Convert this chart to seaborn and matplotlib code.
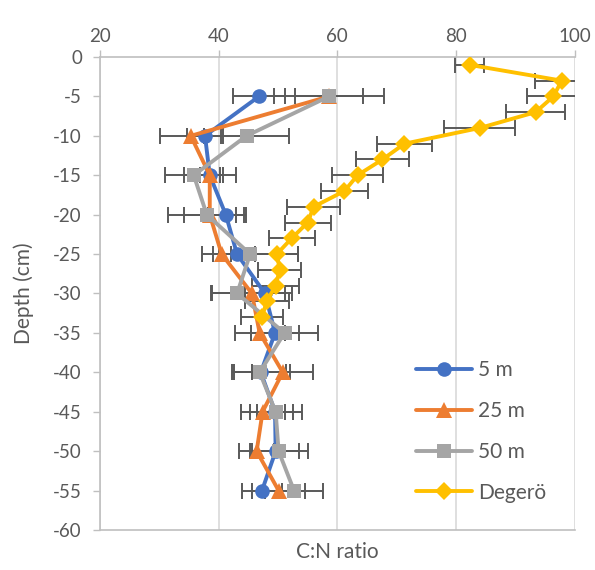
import numpy as np
import pandas as pd
import matplotlib
matplotlib.use("Agg")
import matplotlib.pyplot as plt
import seaborn as sns
from matplotlib.lines import Line2D

# ---------------- data ----------------
depth_sites = [-5, -10, -15, -20, -25, -30, -35, -40, -45, -50, -55]
cn_5m = [46.8, 37.7, 38.5, 41.2, 43.1, 47.8, 49.5, 47.1, 49.5, 49.6, 47.3]
err_5m = [4.4, 3.0, 1.7, 3.0, 3.0, 3.4, 4.0, 4.9, 3.0, 3.9, 3.4]
cn_25m = [58.6, 35.3, 38.5, 38.5, 40.5, 45.6, 46.9, 50.8, 47.4, 46.4, 50.1]
err_25m = [5.7, 5.1, 4.4, 4.4, 1.5, 6.7, 4.2, 5.1, 3.7, 2.9, 4.4]
cn_50m = [58.6, 44.7, 35.8, 38.0, 45.3, 43.1, 51.1, 46.9, 49.6, 50.1, 52.7]
err_50m = [9.3, 7.1, 4.9, 6.6, 8.1, 4.4, 5.7, 4.4, 4.4, 4.9, 4.9]
depth_deg = [-1, -3, -5, -7, -9, -11, -13, -15, -17, -19, -21, -23, -25, -27, -29, -31, -33]
cn_deg = [82.3, 97.8, 96.4, 93.4, 84.0, 71.3, 67.6, 63.4, 61.2, 56.0, 55.0, 52.3, 49.8, 50.3, 49.6, 48.1, 47.3]
err_deg = [2.4, 4.5, 4.5, 5.0, 6.0, 4.7, 4.5, 4.3, 3.9, 4.5, 3.9, 3.9, 3.6, 3.6, 3.9, 3.7, 3.5]

series_names = ["5 m", "25 m", "50 m", "Degerö"]
x_ticks = [20, 40, 60, 80, 100]
y_ticks = list(range(0, -65, -5))

colors = {"5 m": "#4472C4", "25 m": "#ED7D31", "50 m": "#A5A5A5", "Degerö": "#FFC000"}
markers = {"5 m": "o", "25 m": "^", "50 m": "s", "Degerö": "D"}
msizes = {"5 m": 10.5, "25 m": 12, "50 m": 10, "Degerö": 9.5}

frames = []
for name, xs, ys, es in [("5 m", cn_5m, depth_sites, err_5m),
                         ("25 m", cn_25m, depth_sites, err_25m),
                         ("50 m", cn_50m, depth_sites, err_50m),
                         ("Degerö", cn_deg, depth_deg, err_deg)]:
    frames.append(pd.DataFrame({"site": name, "cn": xs, "depth": ys, "err": es,
                                "order": range(len(xs))}))
df = pd.concat(frames, ignore_index=True)

# ---------------- figure ----------------
sns.set_theme(style="white")
plt.rcParams["font.family"] = ["Lato", "DejaVu Sans"]
plt.rcParams["axes.unicode_minus"] = False

fig = plt.figure(figsize=(5.95, 5.70), dpi=100)
ax = fig.add_axes([0.168, 0.0702, 0.798, 0.8298])

txt = "#595959"
axis_c = "#BFBFBF"

# error bars (beneath markers)
for name in series_names:
    sub = df[df.site == name]
    ax.errorbar(sub.cn, sub.depth, xerr=sub.err, fmt="none", ecolor="#595959",
                elinewidth=1.4, capsize=6, capthick=1.4, zorder=2)

for i, name in enumerate(series_names):
    sub = df[df.site == name]
    sns.lineplot(data=sub, x="cn", y="depth", sort=False, estimator=None,
                 color=colors[name], marker=markers[name], markersize=msizes[name],
                 markeredgewidth=0, linewidth=2.8, ax=ax, zorder=3 + i,
                 legend=False)

ax.set_xlim(20, 100)
ax.set_ylim(-60, 0)
ax.set_xticks(x_ticks)
ax.set_yticks(y_ticks)
ax.set_yticklabels([str(v) for v in y_ticks])
ax.xaxis.tick_top()
ax.xaxis.set_label_position("bottom")
ax.tick_params(axis="x", which="both", top=True, bottom=False, direction="out",
               length=5, color=axis_c, width=1, labelsize=13.5, labelcolor=txt, pad=4)
ax.tick_params(axis="y", left=True, direction="out", length=5, color=axis_c,
               width=1, labelsize=13.5, labelcolor=txt, pad=8)

ax.grid(axis="x", color="#D9D9D9", linewidth=1.2, zorder=0)
ax.grid(axis="y", visible=False)
for s in ["left", "top", "bottom"]:
    ax.spines[s].set_color(axis_c)
    ax.spines[s].set_linewidth(1.2)
ax.spines["right"].set_visible(False)

ax.set_xlabel("C:N ratio", fontsize=15, color=txt, labelpad=9)
ax.set_ylabel("Depth (cm)", fontsize=15, color=txt, labelpad=14)

handles = [Line2D([0], [0], color=colors[n], marker=markers[n], markersize=msizes[n],
                  markeredgewidth=0, linewidth=2.8) for n in series_names]
leg = ax.legend(handles, series_names, loc="lower right", bbox_to_anchor=(0.98, 0.018),
                frameon=False, fontsize=15, labelcolor=txt, handlelength=2.7,
                labelspacing=1.0, handletextpad=0.3)

fig.savefig("out.png", dpi=100)
